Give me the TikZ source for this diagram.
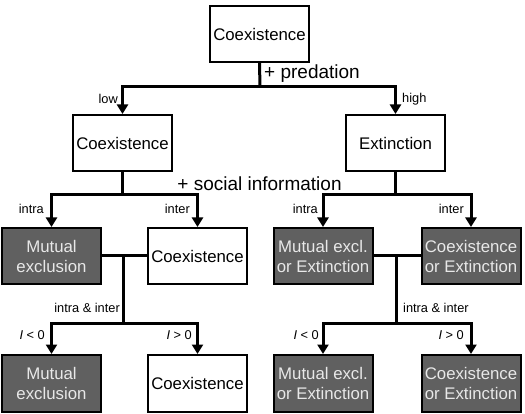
\documentclass[tikz,border=0pt]{standalone}
\usepackage{fontspec}
\setmainfont{Liberation Sans}
\usetikzlibrary{arrows.meta}
\definecolor{darkbox}{RGB}{96,96,96}
\definecolor{lighttext}{RGB}{232,232,232}
\begin{document}
\begin{tikzpicture}[x=1pt,y=-1pt,
  box/.style={draw, line width=2pt, minimum width=99pt, minimum height=56pt, inner sep=0pt, align=center,
    font=\fontsize{16.8}{20}\selectfont},
  dark/.style={box, fill=darkbox, text=lighttext},
  light/.style={box, fill=white, text=black},
  tall/.style={minimum height=57pt},
  conn/.style={line width=3pt},
  arr/.style={conn, -{Triangle[width=11pt,length=9.5pt]}},
  lbl/.style={font=\fontsize{12.8}{15}\selectfont, inner sep=0pt},
  biglbl/.style={font=\fontsize{19}{22}\selectfont, inner sep=0pt}]
\useasboundingbox (0,0) rectangle (525,414);
% nodes
\node[light] (top) at (259.5,34) {Coexistence};
\node[light] (midL) at (122.5,143) {Coexistence};
\node[light] (midR) at (395.5,143) {Extinction};
\node[dark] (r3a) at (51.5,256) {Mutual\\exclusion};
\node[light] (r3b) at (197.5,256) {Coexistence};
\node[dark] (r3c) at (323,256) {Mutual excl.\\or Extinction};
\node[dark] (r3d) at (471,256) {Coexistence\\or Extinction};
\node[dark,tall] (r4a) at (51.5,383.5) {Mutual\\exclusion};
\node[light,tall] (r4b) at (197.5,383.5) {Coexistence};
\node[dark,tall] (r4c) at (323,383.5) {Mutual excl.\\or Extinction};
\node[dark,tall] (r4d) at (471,383.5) {Coexistence\\or Extinction};
% junctions
\coordinate (j1) at (260,87);
\coordinate (j2L) at (122.5,195);
\coordinate (j2R) at (395.5,195);
\coordinate (j3L) at (123,256);
\coordinate (j3R) at (396.5,256);
\coordinate (j4L) at (123,323);
\coordinate (j4R) at (396.5,323);
% connectors
\draw[conn] (top.south) -- (j1);
\draw[arr] (j1) -| (midL.north);
\draw[arr] (j1) -| (midR.north);
\draw[conn] (midL.south) -- (j2L);
\draw[conn] (midR.south) -- (j2R);
\draw[arr] (j2L) -| (r3a.north);
\draw[arr] (j2L) -| (r3b.north);
\draw[arr] (j2R) -| (r3c.north);
\draw[arr] (j2R) -| (r3d.north);
\draw[conn] (r3a.east) -- (r3b.west);
\draw[conn] (r3c.east) -- (r3d.west);
\draw[conn] (j3L) -- (j4L);
\draw[conn] (j3R) -- (j4R);
\draw[arr] (j4L) -| (r4a.north);
\draw[arr] (j4L) -| (r4b.north);
\draw[arr] (j4R) -| (r4c.north);
\draw[arr] (j4R) -| (r4d.north);
% labels
\node[biglbl, anchor=west] (tpred) at (264,74) {+ predation};
\node[biglbl] (tsoc) at (259.5,184) {+ social information};
\node[lbl, anchor=east] (tlow) at (118,99) {low};
\node[lbl, anchor=west] (thigh) at (402,99) {high};
\node[lbl, anchor=east] (ti1) at (44,209) {intra};
\node[lbl, anchor=east] (te1) at (190,209) {inter};
\node[lbl, anchor=east] (ti2) at (318,209) {intra};
\node[lbl, anchor=east] (te2) at (464,209) {inter};
\node[lbl, anchor=east] (tie1) at (120,308) {intra \& inter};
\node[lbl, anchor=west] (tie2) at (403,308) {intra \& inter};
\node[lbl, anchor=east] (tl1) at (45,335) {\textit{I} < 0};
\node[lbl, anchor=east] (tg1) at (192,335) {\textit{I} > 0};
\node[lbl, anchor=east] (tl2) at (319,335) {\textit{I} < 0};
\node[lbl, anchor=east] (tg2) at (464,335) {\textit{I} > 0};
\end{tikzpicture}
\end{document}
